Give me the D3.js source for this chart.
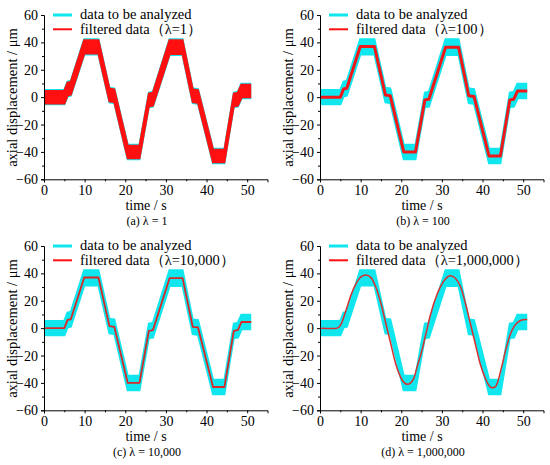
<!DOCTYPE html>
<html>
<head>
<meta charset="utf-8">
<title>axial displacement filtering</title>
<script src="https://d3js.org/d3.v7.min.js"></script>
<style>
  body { margin: 0; background: #fff; }
  svg { font-family: "Liberation Serif", "Times New Roman", serif; }
</style>
</head>
<body>
<div id="chart"></div>
<script>
// 原始数据（带噪声的包络：上边界、下边界）
const hiT = [0, 4.8, 5.6, 6.4, 9.7, 13.6, 16.3, 17.5, 20.8, 23.3, 25.6, 26.6, 30.7, 34.3, 36.8, 38.1, 41.8, 44.2, 46.5, 47.5, 48.4, 51.0];
const hiV = [6, 6, 12, 12.5, 43, 43, 7.5, 7, -34, -34, 4, 4.5, 43, 43, 7, 6.5, -37, -37, 4, 4.5, 10.5, 10.5];
const loT = [0, 5.2, 6.0, 6.8, 10.1, 13.2, 15.9, 17.1, 20.4, 23.7, 26.0, 27.0, 31.1, 33.9, 36.4, 37.7, 41.4, 44.6, 46.9, 47.9, 48.8, 51.0];
const loV = [-6, -6, 0, 0.5, 30.5, 30.5, -4.5, -5, -46, -46, -8, -7.5, 30, 30, -5, -5.5, -49, -49, -8, -7.5, -1.5, -1.5];

// λ=1 滤波结果（几乎与原始数据重合）
const redHiA = [5.3, 5.3, 11.3, 11.8, 42.3, 42.3, 6.8, 6.3, -34.7, -34.7, 3.3, 3.8, 42.3, 42.3, 6.3, 5.8, -37.7, -37.7, 3.3, 3.8, 9.8, 9.8];
const redLoA = [-5.3, -5.3, 0.7, 1.2, 31.2, 31.2, -3.8, -4.3, -45.3, -45.3, -7.3, -6.8, 30.7, 30.7, -4.3, -4.8, -48.3, -48.3, -7.3, -6.8, -0.8, -0.8];

// λ=100 / λ=10,000 滤波结果
const stepT = [0, 5.0, 5.8, 6.6, 9.9, 13.4, 16.1, 17.3, 20.6, 23.5, 25.8, 26.8, 30.9, 34.1, 36.6, 37.9, 41.6, 44.4, 46.7, 47.7, 48.6, 51.0];
const stepV = [0, 0, 6, 6.5, 37, 37, 1.5, 1, -40, -40, -2, -1.5, 36.5, 36.5, 1, 0.5, -43, -43, -2, -1.5, 4.5, 4.5];

// λ=1,000,000 滤波结果
const smoothT = [0, 2, 3.5, 4.5, 5.2, 6.4, 7.6, 8.9, 10.1, 11.3, 12.5, 13.7, 15.0, 16.2, 17.4, 18.6, 19.8, 20.7, 21.5, 22.3, 23.1, 23.9, 25.1, 26.0, 27.2, 28.9, 30.5, 32.1, 33.3, 34.6, 35.8, 37.0, 38.2, 39.4, 40.7, 41.5, 42.3, 43.0, 43.6, 44.7, 45.9, 46.9, 48.0, 49.2, 50.4, 51.0];
const smoothV = [0, -0.2, -0.3, 0.4, 3, 13, 24, 32.7, 37.5, 38.8, 37.1, 30.2, 18, 3.4, -11.2, -25.8, -35.6, -39.8, -41, -40, -36.5, -28.3, -16.1, -5, 10, 25.5, 34.5, 38.2, 36.5, 30.2, 18, 3.4, -11.2, -25.8, -36.8, -41.5, -43.6, -43.2, -40.5, -28.3, -13.7, -3.9, 2.2, 5.4, 6.3, 6.4];

const xTicks = [0, 10, 20, 30, 40, 50];
const yTicks = [-60, -40, -20, 0, 20, 40, 60];
const captions = ["(a) λ = 1", "(b) λ = 100", "(c) λ = 10,000", "(d) λ = 1,000,000"];
const lambdas = ["1", "100", "10,000", "1,000,000"];

const CYAN = "#10e6ee";
const RED = "#ff1010";
const FONT = "'Liberation Serif', 'Times New Roman', serif";

const svg = d3.select("#chart").append("svg")
    .attr("width", 550).attr("height", 465);

const x = d3.scaleLinear().domain([0, 55]).range([44, 267.5]);
const y = d3.scaleLinear().domain([-60, 60]).range([179.3, 15]);

// 上边界正向 + 下边界反向，闭合成带状区域
const bandPoints = (tTop, vTop, tBot, vBot) =>
    tTop.map((t, i) => [t, vTop[i]])
        .concat(tBot.map((t, i) => [t, vBot[i]]).reverse());

const poly = d3.line().x(d => x(d[0])).y(d => y(d[1]));

const styleAxis = a => {
    a.selectAll("line").attr("stroke", "#000");
    a.selectAll(".domain").attr("stroke", "#000");
    a.selectAll("text")
        .style("font-family", FONT)
        .style("font-size", "14px")
        .attr("fill", "#000");
};

const offsets = [[0, 0], [276, 0], [0, 231], [276, 231]];

offsets.forEach(([ox, oy], k) => {
    const g = svg.append("g").attr("transform", `translate(${ox},${oy})`);

    // 原始数据带
    g.append("path")
        .attr("d", poly(bandPoints(hiT, hiV, loT, loV)) + "Z")
        .attr("fill", CYAN);

    // 滤波数据
    if (k === 0) {
        g.append("path")
            .attr("d", poly(bandPoints(hiT, redHiA, loT, redLoA)) + "Z")
            .attr("fill", RED);
    } else if (k === 1 || k === 2) {
        g.append("path")
            .datum(stepT)
            .attr("d", d3.line().x((d, i) => x(stepT[i])).y((d, i) => y(stepV[i])))
            .attr("fill", "none")
            .attr("stroke", k === 1 ? "#f01818" : "#d82828")
            .attr("stroke-width", k === 1 ? 3 : 1.8)
            .attr("stroke-linejoin", "round");
    } else {
        g.append("path")
            .datum(smoothT)
            .attr("d", d3.line().curve(d3.curveMonotoneX)
                .x((d, i) => x(smoothT[i])).y((d, i) => y(smoothV[i])))
            .attr("fill", "none")
            .attr("stroke", "#d83030")
            .attr("stroke-width", 1.5);
    }

    // 坐标轴（主刻度 + 次刻度）
    g.append("g")
        .attr("transform", `translate(0,${y(-60)})`)
        .call(d3.axisBottom(x).tickValues(d3.range(5, 55, 10)).tickSize(2).tickFormat(""))
        .call(a => a.select(".domain").remove())
        .call(styleAxis);
    g.append("g")
        .attr("transform", `translate(0,${y(-60)})`)
        .call(d3.axisBottom(x).tickValues(xTicks).tickSizeOuter(0).tickSize(3).tickPadding(3))
        .call(styleAxis);

    g.append("g")
        .attr("transform", `translate(${x(0)},0)`)
        .call(d3.axisLeft(y).tickValues(d3.range(-50, 60, 20)).tickSize(2).tickFormat(""))
        .call(a => a.select(".domain").remove())
        .call(styleAxis);
    g.append("g")
        .attr("transform", `translate(${x(0)},0)`)
        .call(d3.axisLeft(y).tickValues(yTicks).tickSizeOuter(0).tickSize(3).tickPadding(3))
        .call(styleAxis);

    // 轴标题
    g.append("text")
        .attr("x", 146).attr("y", 210)
        .attr("text-anchor", "middle")
        .style("font-size", "14px")
        .text("time / s");

    g.append("text")
        .attr("transform", `translate(16.5,97.5) rotate(-90)`)
        .attr("text-anchor", "middle")
        .style("font-size", "14.5px")
        .text("axial displacement / μm");

    g.append("text")
        .attr("x", 147).attr("y", 225)
        .attr("text-anchor", "middle")
        .style("font-size", "12px")
        .text(captions[k]);

    // 图例
    const lg = g.append("g");
    lg.append("line")
        .attr("x1", 53).attr("x2", 72).attr("y1", 15).attr("y2", 15)
        .attr("stroke", CYAN).attr("stroke-width", 3);
    lg.append("text")
        .attr("x", 80).attr("y", 19)
        .style("font-size", "14.5px")
        .text("data to be analyzed");
    lg.append("line")
        .attr("x1", 53).attr("x2", 72).attr("y1", 29.3).attr("y2", 29.3)
        .attr("stroke", RED).attr("stroke-width", 2);
    lg.append("text")
        .attr("x", 80).attr("y", 33.5)
        .style("font-size", "14.5px")
        .text(`filtered data（λ=${lambdas[k]}）`);
});
</script>
</body>
</html>
